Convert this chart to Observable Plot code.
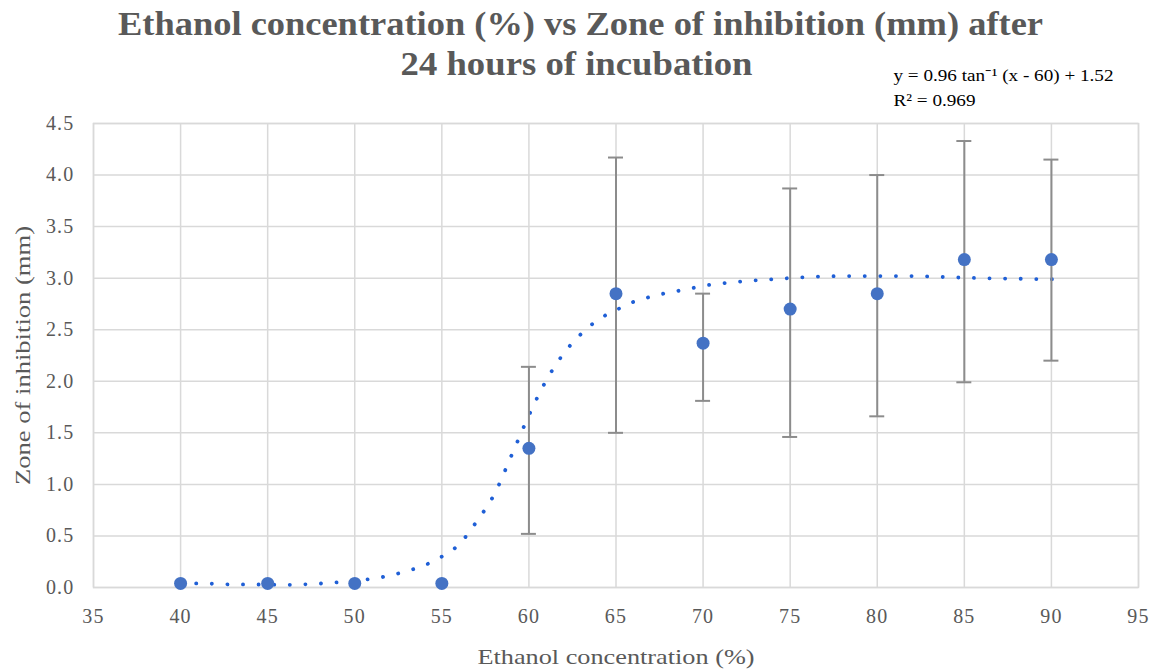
<!DOCTYPE html>
<html>
<head>
<meta charset="utf-8">
<script src="https://cdn.jsdelivr.net/npm/d3@7"></script>
<script src="https://cdn.jsdelivr.net/npm/@observablehq/plot@0.6"></script>
<style>
  html, body { margin: 0; padding: 0; background: #fff; }
  #chart { width: 1157px; height: 671px; }
</style>
</head>
<body>
<div id="chart"></div>
<script>
// ---- data ----
const concentration = [40, 45, 50, 55, 60, 65, 70, 75, 80, 85, 90];
const zone = [0.04, 0.04, 0.04, 0.04, 1.35, 2.85, 2.37, 2.70, 2.85, 3.18, 3.18];
const errLow = [null, null, null, null, 0.52, 1.50, 1.81, 1.46, 1.66, 1.99, 2.20];
const errHigh = [null, null, null, null, 2.14, 4.17, 2.85, 3.87, 4.00, 4.33, 4.15];

const trendX = [40, 41, 42, 43, 44, 45, 46, 47, 48, 49, 50, 51, 52, 53, 54, 55, 56, 57, 58, 59, 60, 61, 62, 63, 64, 65, 66, 67, 68, 69, 70, 72, 74, 76, 78, 80, 82, 84, 86, 88, 90, 90.6];
const trendY = [0.036, 0.04, 0.035, 0.03, 0.03, 0.028, 0.026, 0.03, 0.038, 0.05, 0.065, 0.085, 0.115, 0.16, 0.215, 0.30, 0.42, 0.64, 0.90, 1.28, 1.67, 2.01, 2.27, 2.46, 2.60, 2.69, 2.77, 2.82, 2.86, 2.89, 2.925, 2.965, 2.99, 3.01, 3.02, 3.02, 3.02, 3.01, 3.00, 2.995, 2.99, 2.99];

const xTicks = [35, 40, 45, 50, 55, 60, 65, 70, 75, 80, 85, 90, 95];
const yTicks = [0, 0.5, 1, 1.5, 2, 2.5, 3, 3.5, 4, 4.5];

const titleLines = ["Ethanol concentration (%) vs Zone of inhibition (mm) after", "24 hours of incubation"];
const equationLines = ["y = 0.96 tan\u207B\u00B9 (x - 60) + 1.52", "R\u00B2 = 0.969"];
const xLabel = "Ethanol concentration (%)";
const yLabel = "Zone of inhibition (mm)";

// ---- tables ----
const points = concentration.map((x, i) => ({x, y: zone[i], lo: errLow[i], hi: errHigh[i]}));
const bars = points.filter(d => d.lo != null);
const trend = trendX.map((x, i) => ({x, y: trendY[i]}));
const capHalf = 0.43;

const serif = "'Liberation Serif', 'Times New Roman', serif";
const gridColor = "#d9d9d9";
const textColor = "#595959";

const chart = Plot.plot({
  width: 1157,
  height: 671,
  marginLeft: 93,
  marginRight: 19,
  marginTop: 123,
  marginBottom: 84,
  style: {fontFamily: serif, fontSize: "19px", color: textColor, background: "#fff"},
  x: {domain: [35, 95], ticks: xTicks, tickSize: 0, tickPadding: 21, label: null},
  y: {domain: [0, 4.5], ticks: yTicks, tickSize: 0, tickPadding: 18, tickFormat: d3.format(".1f"), label: null},
  marks: [
    Plot.gridX(xTicks, {stroke: gridColor, strokeOpacity: 1, strokeWidth: 1.5}),
    Plot.gridY(yTicks, {stroke: gridColor, strokeOpacity: 1, strokeWidth: 1.5}),
    Plot.frame({stroke: gridColor, strokeWidth: 1.5}),
    Plot.axisX({ticks: xTicks, tickSize: 0, tickPadding: 21, fill: textColor, fontSize: 20, label: null}),
    Plot.axisY({ticks: yTicks, tickSize: 0, tickPadding: 19, fill: textColor, fontSize: 20, tickFormat: d3.format(".1f"), label: null}),
    Plot.line(trend, {x: "x", y: "y", curve: "monotone-x", stroke: "#1f5fd6", strokeWidth: 3.8, strokeDasharray: "0.1,15.5", strokeLinecap: "round"}),
    Plot.ruleX(bars, {x: "x", y1: "lo", y2: "hi", stroke: "#8c8c8c", strokeWidth: 2}),
    Plot.ruleY(bars, {y: "lo", x1: d => d.x - capHalf, x2: d => d.x + capHalf, stroke: "#8c8c8c", strokeWidth: 2}),
    Plot.ruleY(bars, {y: "hi", x1: d => d.x - capHalf, x2: d => d.x + capHalf, stroke: "#8c8c8c", strokeWidth: 2}),
    Plot.dot(points, {x: "x", y: "y", r: 6.5, fill: "#4472c4", stroke: "none"}),
    // titles
    Plot.text([titleLines[0]], {frameAnchor: "top-left", dx: 487, dy: -99, text: d => d, textAnchor: "middle", lineAnchor: "middle", fontSize: 33, fontWeight: "bold", fill: textColor}),
    Plot.text([titleLines[1]], {frameAnchor: "top-left", dx: 483, dy: -59, text: d => d, textAnchor: "middle", lineAnchor: "middle", fontSize: 33, fontWeight: "bold", fill: textColor}),
    Plot.text([equationLines[0]], {frameAnchor: "top-left", dx: 800, dy: -48, text: d => d, textAnchor: "start", lineAnchor: "middle", fontSize: 17.5, fill: "#000"}),
    Plot.text([equationLines[1]], {frameAnchor: "top-left", dx: 800, dy: -23, text: d => d, textAnchor: "start", lineAnchor: "middle", fontSize: 17.5, fill: "#000"}),
    Plot.text([xLabel], {frameAnchor: "bottom", dy: 69, text: d => d, textAnchor: "middle", lineAnchor: "middle", fontSize: 22, fill: textColor}),
    Plot.text([yLabel], {frameAnchor: "left", dx: -71, rotate: -90, text: d => d, textAnchor: "middle", lineAnchor: "middle", fontSize: 22, fill: textColor})
  ]
});
document.getElementById("chart").appendChild(chart);

// widen text to match the reference's horizontal proportions
const lengths = new Map([
  [titleLines[0], 925],
  [titleLines[1], 352],
  [equationLines[0], 220],
  [equationLines[1], 82],
  [xLabel, 277],
  [yLabel, 259]
]);
chart.querySelectorAll("text").forEach(t => {
  const L = lengths.get(t.textContent);
  if (L) { t.setAttribute("textLength", L); t.setAttribute("lengthAdjust", "spacingAndGlyphs"); }
});
chart.querySelectorAll("g[aria-label='x-axis tick label'] text, g[aria-label='y-axis tick label'] text").forEach(t => {
  t.setAttribute("letter-spacing", "1.2px");
});
</script>
</body>
</html>
